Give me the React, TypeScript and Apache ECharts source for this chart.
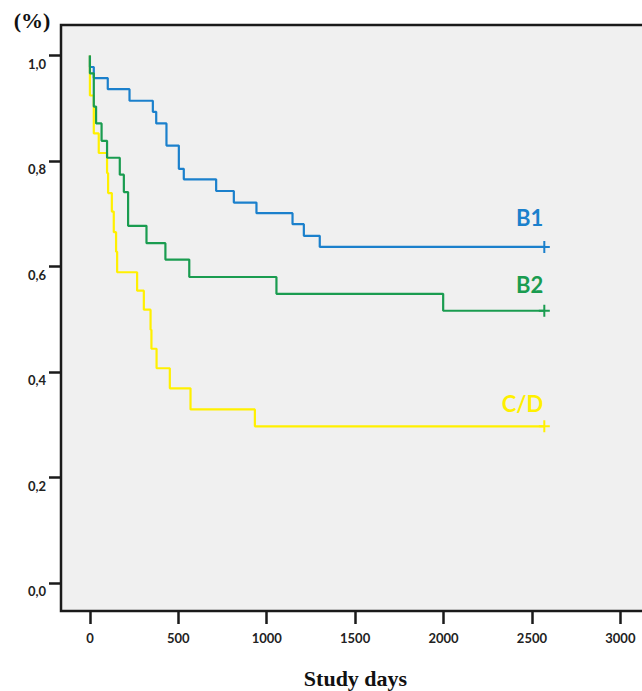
import React, { useEffect, useRef } from "react";
import * as echarts from "echarts";

// Axis ticks
const xTicks = [0, 500, 1000, 1500, 2000, 2500, 3000];
const yTicks = [0, 0.2, 0.4, 0.6, 0.8, 1.0];

// Group names and colours
const groupNames = ["B1", "C/D", "B2"];
const groupColors = ["#1b80cc", "#fff000", "#1a9c50"];

// Kaplan–Meier step data (event day, survival after event); last point = censor
const b1Days = [0, 0, 22, 101, 224, 356, 375, 433, 503, 531, 714, 814, 942, 1146, 1210, 1300, 2570];
const b1Surv = [1.0, 0.978, 0.957, 0.936, 0.914, 0.893, 0.871, 0.829, 0.785, 0.765, 0.743, 0.721, 0.701, 0.680, 0.658, 0.637, 0.637];

const b2Days = [0, 0, 22, 35, 66, 97, 169, 192, 216, 320, 427, 562, 1055, 1998, 2570];
const b2Surv = [1.0, 0.966, 0.903, 0.871, 0.838, 0.806, 0.774, 0.741, 0.677, 0.644, 0.613, 0.580, 0.548, 0.516, 0.516];

const cdDays = [0, 0, 0, 22, 50, 97, 103, 124, 135, 148, 154, 267, 305, 343, 348, 377, 452, 569, 933, 2570];
const cdSurv = [1.0, 0.963, 0.924, 0.852, 0.815, 0.777, 0.739, 0.704, 0.665, 0.628, 0.589, 0.554, 0.518, 0.480, 0.444, 0.407, 0.369, 0.329, 0.297, 0.297];

const groupDays = [b1Days, cdDays, b2Days];
const groupSurv = [b1Surv, cdSurv, b2Surv];
// vertical label offsets above the final level (px)
const labelLift = [29, 23, 26];

const censorPath = "path://M0,5H11V7H0Z M4.5,0H6.5V12H4.5Z";

export default function App() {
  const ref = useRef<HTMLDivElement>(null);
  useEffect(() => {
    if (!ref.current) return;
    const chart = echarts.init(ref.current, undefined, { renderer: "svg" });
    const tickStyle = { color: "#1a1a1a", width: 2.5 };
    const labelFont = { fontFamily: "Lato", fontSize: 13, fontWeight: "bold" as const, color: "#222" };

    const series = groupNames.map((name, gi) => {
      const days = groupDays[gi];
      const surv = groupSurv[gi];
      const data = days.map((d, i) => {
        if (i === days.length - 1) {
          return { value: [d, surv[i]], symbol: censorPath, symbolSize: [11, 12] };
        }
        return { value: [d, surv[i]], symbol: "none" };
      });
      return {
        name,
        type: "line",
        step: "end",
        data,
        showSymbol: true,
        symbol: "none",
        lineStyle: { color: groupColors[gi], width: 2.2 },
        itemStyle: { color: groupColors[gi] },
        emphasis: { disabled: true },
        z: 2 + gi,
      };
    });

    chart.setOption({
      animation: false,
      grid: {
        left: 61,
        top: 25,
        width: 600,
        height: 586,
        show: true,
        backgroundColor: "#f0f0f0",
        borderColor: "#1a1a1a",
        borderWidth: 2.5,
        outerBoundsMode: "none",
        containLabel: false,
      },
      xAxis: {
        type: "value",
        min: -163.5,
        max: 3230,
        axisLine: { show: false, onZero: false },
        splitLine: { show: false },
        axisTick: { show: true, inside: false, length: 13, customValues: xTicks, lineStyle: tickStyle },
        axisLabel: { ...labelFont, customValues: xTicks, margin: 20, formatter: (v: number) => String(v) },
      },
      yAxis: {
        type: "value",
        min: -0.0531,
        max: 1.0576,
        axisLine: { show: false, onZero: false },
        splitLine: { show: false },
        axisTick: { show: true, inside: false, length: 12, customValues: yTicks, lineStyle: tickStyle },
        axisLabel: {
          ...labelFont,
          customValues: yTicks,
          margin: 15,
          verticalAlign: "top",
          padding: [2, 0, 0, 0],
          formatter: (v: number) => v.toFixed(1).replace(".", ","),
        },
      },
      series,
    });

    const texts: any[] = groupNames.map((name, gi) => {
      const days = groupDays[gi];
      const surv = groupSurv[gi];
      const p = chart.convertToPixel({ xAxisIndex: 0, yAxisIndex: 0 }, [
        days[days.length - 1],
        surv[surv.length - 1],
      ]) as number[];
      return {
        type: "text",
        x: p[0] - 1,
        y: p[1] - labelLift[gi],
        style: {
          text: name,
          fill: groupColors[gi],
          font: "bold 22px Lato",
          align: "right",
          verticalAlign: "middle",
        },
        z: 10,
      };
    });
    texts.push({
      type: "text",
      x: 32,
      y: 20,
      style: {
        text: "(%)",
        fill: "#111",
        font: "bold 22px 'Liberation Serif', 'Times New Roman', serif",
        align: "center",
        verticalAlign: "middle",
      },
    });
    texts.push({
      type: "text",
      x: 355.5,
      y: 678,
      style: {
        text: "Study days",
        fill: "#111",
        font: "bold 22px 'Liberation Serif', 'Times New Roman', serif",
        align: "center",
        verticalAlign: "middle",
      },
    });
    chart.setOption({ graphic: texts });

    return () => chart.dispose();
  }, []);
  return (
    <div
      ref={ref}
      style={{ position: "fixed", left: 0, top: 0, width: 642, height: 691, background: "#ffffff" }}
    />
  );
}
